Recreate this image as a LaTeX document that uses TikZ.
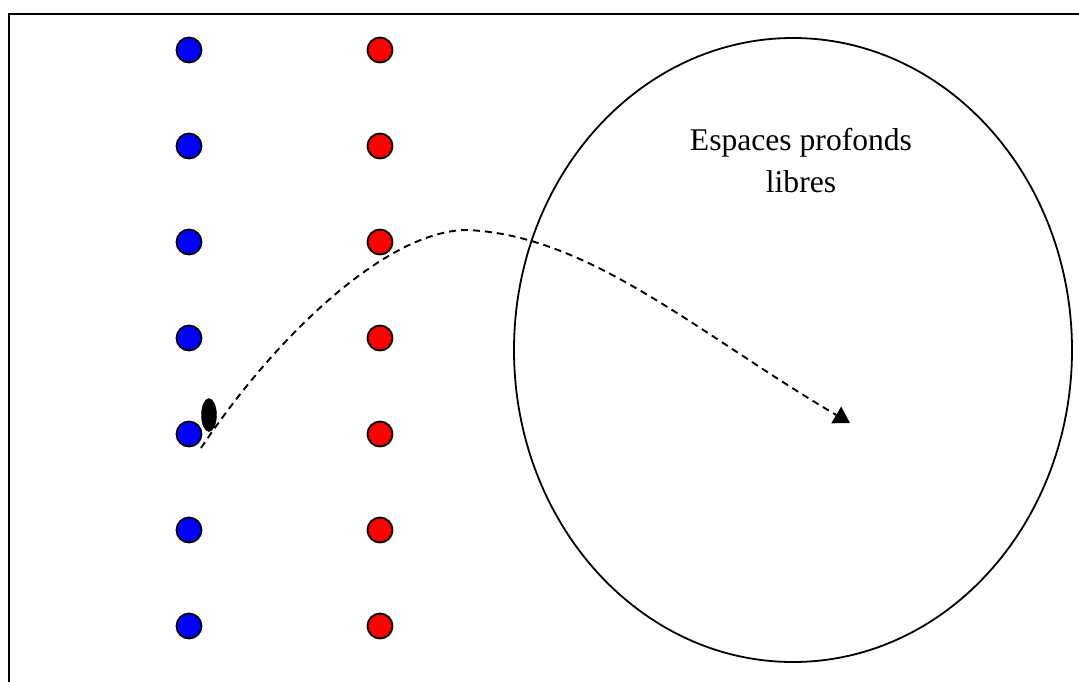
\documentclass[tikz,border=0pt]{standalone}
\usepackage{fontspec}
\setmainfont{Liberation Serif}
\usetikzlibrary{arrows.meta,shapes.geometric}
\begin{document}
\begin{tikzpicture}[x=1pt,y=-1pt,
  bluedot/.style={circle,draw=black,line width=1.8pt,fill=blue,minimum size=25pt,inner sep=0pt},
  reddot/.style={circle,draw=black,line width=1.8pt,fill=red,minimum size=25pt,inner sep=0pt},
  spacezone/.style={ellipse,draw=black,line width=1.8pt,minimum width=558pt,minimum height=624pt,inner sep=0pt},
  particle/.style={ellipse,fill=black,draw=black,minimum width=15pt,minimum height=33pt,inner sep=0pt},
  pathline/.style={line width=1.9pt,dash pattern=on 7pt off 5pt,-{Triangle[length=16pt,width=19pt]}},
  label/.style={font=\fontsize{31.6}{42}\selectfont,align=center,inner sep=0pt}]
\clip (0,0) rectangle (1079,681);
\useasboundingbox (0,0) rectangle (1079,681);
\fill[white] (0,0) rectangle (1079,681);
\draw[line width=2.2pt] (9,14) rectangle (1100,700);
\foreach \i/\yy in {1/50,2/146,3/242,4/338,5/434,6/530,7/626}{
  \node[bluedot] (b\i) at (189,\yy) {};
  \node[reddot] (r\i) at (380,\yy) {};
}
\node[spacezone] (space) at (793,350) {};
\node[label] (txt) at (801,161) {Espaces profonds\\libres};
\node[particle] (p) at (209,415) {};
\coordinate (start) at (201,448);
\coordinate (peak) at (467,230);
\coordinate (target) at (850,423);
\draw[pathline] (start) .. controls (280,330) and (390,230) .. (peak)
  .. controls (590,235) and (700,335) .. (target);
\end{tikzpicture}
\end{document}
